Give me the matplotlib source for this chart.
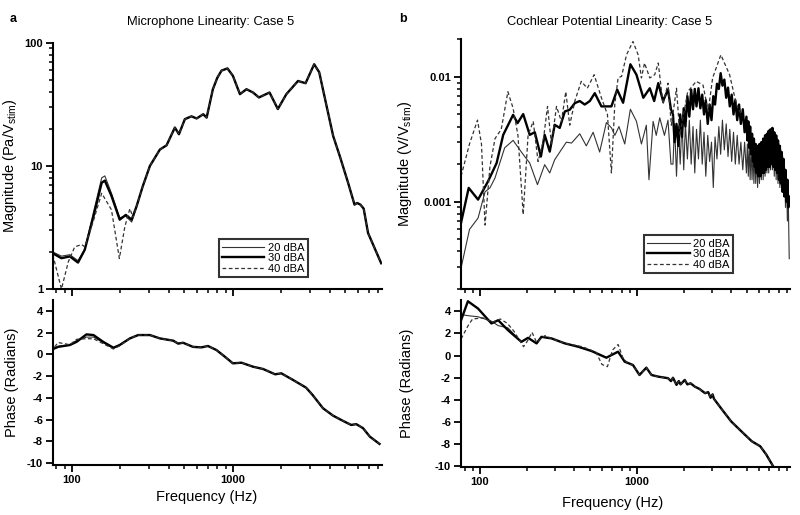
import matplotlib
matplotlib.use("Agg")
import matplotlib.pyplot as plt
from matplotlib.ticker import LogLocator, NullFormatter, FixedLocator, FixedFormatter

plt.rcParams["font.family"] = ["Liberation Sans", "DejaVu Sans"]
plt.rcParams["mathtext.fontset"] = "custom"
plt.rcParams["mathtext.rm"] = "Liberation Sans"
plt.rcParams["axes.unicode_minus"] = False

# ---- panel a: microphone ----
mic_freq = [76, 86, 97, 109, 120, 136, 153, 160, 176, 198, 216, 235, 252, 275, 305, 352, 387,
            436, 462, 503, 553, 595, 654, 687, 751, 800, 850, 925, 1000, 1106, 1215, 1334,
            1452, 1690, 1903, 2150, 2540, 2830, 3200, 3440, 3820, 4200, 4620, 5200, 5700,
            5920, 6200, 6500, 6920, 8350]
mic_mag_30 = [1.95, 1.78, 1.84, 1.64, 2.08, 3.89, 7.3, 7.6, 5.7, 3.66, 4.0, 3.66, 4.7, 6.8, 10,
              13.6, 14.7, 20.5, 18.1, 24, 25.3, 24.3, 26.3, 24.7, 42, 52, 59.5, 62, 54, 38.3,
              42, 39.5, 36, 39.5, 29, 38.3, 49, 47, 67, 57.7, 30.8, 17.5, 12, 7.3, 4.85, 5.0,
              4.85, 4.5, 2.85, 1.62]
mic_mag_20 = [2.0, 1.85, 1.9, 1.7, 2.1, 4.2, 8.0, 8.3, 6.0, 3.8, 3.9, 3.5] + mic_mag_30[12:]
mic_freq_40 = [76, 86, 95, 104, 115, 120, 136, 153, 176, 197, 213, 229, 240] + mic_freq[12:]
mic_mag_40 = [1.9, 1.0, 1.67, 2.2, 2.3, 2.2, 3.6, 6.0, 4.4, 1.77, 3.2, 4.5, 3.8] + mic_mag_30[12:]

mic_pfreq = [78, 82, 97, 107, 123, 136, 156, 181, 198, 229, 258, 305, 352, 426, 457, 490, 565,
             636, 700, 790, 892, 1000, 1130, 1334, 1540, 1830, 2000, 2370, 2850, 3130, 3630,
             4190, 4840, 5430, 5850, 6440, 7100, 8150]
mic_phase_30 = [0.56, 0.7, 0.87, 1.17, 1.85, 1.79, 1.17, 0.62, 0.87, 1.48, 1.79, 1.79, 1.48,
                1.27, 1.0, 1.08, 0.7, 0.65, 0.78, 0.41, -0.21, -0.82, -0.76, -1.13, -1.34,
                -1.83, -1.74, -2.36, -3.06, -3.74, -4.96, -5.64, -6.13, -6.5, -6.43, -6.8,
                -7.58, -8.25]
mic_phase_20 = [0.6, 0.75, 0.9, 1.3, 1.6, 1.6, 1.1, 0.55, 0.9] + mic_phase_30[9:]
mic_phase_40 = [0.7, 1.1, 0.9, 1.4, 1.45, 1.45, 1.0, 0.5, 0.8] + mic_phase_30[9:]

# ---- panel b: cochlear potential ----
cp_freq_hi = [1700, 1740, 1790, 1840, 1890, 1940, 1990, 2040, 2100, 2160, 2220, 2280, 2340,
              2400, 2470, 2540, 2610, 2680, 2750, 2830, 2910, 2990, 3070, 3150, 3240, 3330,
              3420, 3510, 3610, 3710, 3810, 3910, 4020, 4130, 4240, 4360, 4480, 4600, 4730,
              4860, 4990, 5060, 5130, 5200, 5270, 5345, 5420, 5495, 5570, 5645, 5720, 5800,
              5880, 5960, 6040, 6125, 6210, 6295, 6380, 6470, 6560, 6650, 6740, 6830, 6920,
              7015, 7110, 7210, 7310, 7410, 7510, 7615, 7720, 7825, 7930, 8040, 8150, 8265,
              8380, 8495, 8610, 8730, 8850, 8975, 9100, 9225, 9350]

cp_freq_30 = [76, 85, 97.5, 113, 128, 141, 163, 174, 189, 208, 224, 245, 259, 279, 300, 323,
              348, 374, 403, 433, 466, 502, 540, 595, 689, 750, 818, 910, 995, 1100, 1210,
              1290, 1370, 1470, 1580, 1650] + cp_freq_hi
cp_mag_30 = [0.00068, 0.00129, 0.00104, 0.00146, 0.00204, 0.00343, 0.00496, 0.00426, 0.00503,
             0.00343, 0.0036, 0.0023, 0.00343, 0.00252, 0.00413, 0.0039, 0.00528, 0.00545,
             0.00616, 0.0064, 0.0060, 0.0064, 0.0074, 0.0058, 0.0058, 0.0079, 0.0062, 0.0126,
             0.0104, 0.0068, 0.0081, 0.0064, 0.0089, 0.0064, 0.0079, 0.0055,
             0.0050, 0.0030, 0.0042, 0.0028, 0.0050, 0.0033, 0.0056, 0.0040, 0.0070, 0.0048,
             0.0079, 0.0055, 0.0080, 0.0058, 0.0081, 0.0056, 0.0072, 0.0050, 0.0065, 0.0042,
             0.0060, 0.0045, 0.0070, 0.0060, 0.0088, 0.0080, 0.0107, 0.0085, 0.0095, 0.0068,
             0.0082, 0.0058, 0.0072, 0.0050, 0.0065, 0.0045, 0.0060, 0.0042, 0.0055, 0.0036,
             0.0048, 0.0031, 0.0044, 0.0027, 0.0040, 0.0024, 0.0035, 0.0021, 0.0032, 0.0019,
             0.0029, 0.0017, 0.0028, 0.0016, 0.0029, 0.0016, 0.0030, 0.0017, 0.0032, 0.0017,
             0.0034, 0.0018, 0.0035, 0.0019, 0.0037, 0.0019, 0.0038, 0.0020, 0.0039, 0.0019,
             0.0036, 0.0018, 0.0034, 0.0017, 0.0031, 0.0015, 0.0028, 0.0014, 0.0025, 0.0012,
             0.0022, 0.0011, 0.0018, 0.0010, 0.0015, 0.0009, 0.0011]

cp_freq_20 = [76, 86, 97.5, 108, 116, 125, 144, 163, 184, 208, 233, 259, 279, 300, 356, 384,
              433, 477, 527, 580, 640, 690, 725, 770, 838, 910, 995, 1070, 1150, 1195, 1270,
              1330, 1400, 1500, 1580, 1650] + cp_freq_hi
cp_mag_20 = [0.000295, 0.0006, 0.00074, 0.0012, 0.00129, 0.00155, 0.0027, 0.0031, 0.0025,
             0.00204, 0.00137, 0.00198, 0.0017, 0.00217, 0.003, 0.00295, 0.0035, 0.0028,
             0.0036, 0.0025, 0.0043, 0.0039, 0.0034, 0.0040, 0.0029, 0.0055, 0.0044, 0.0029,
             0.0041, 0.0015, 0.0044, 0.0034, 0.0047, 0.0034, 0.0045, 0.0020,
             0.0020, 0.0042, 0.0016, 0.0040, 0.0020, 0.0045, 0.0018, 0.0042, 0.0022, 0.0045,
             0.0020, 0.0040, 0.0017, 0.0038, 0.0022, 0.0045, 0.0020, 0.0036, 0.0016, 0.0034,
             0.0021, 0.0030, 0.0013, 0.0033, 0.0022, 0.0040, 0.0024, 0.0045, 0.0026, 0.0042,
             0.0023, 0.0038, 0.0021, 0.0036, 0.0020, 0.0034, 0.0020, 0.0030, 0.0018, 0.0030,
             0.0017, 0.0029, 0.0016, 0.0028, 0.0015, 0.0027, 0.0015, 0.0026, 0.0014, 0.0026,
             0.0014, 0.0025, 0.0013, 0.0026, 0.0014, 0.0028, 0.0015, 0.0030, 0.0015, 0.0032,
             0.0016, 0.0034, 0.0017, 0.0036, 0.0017, 0.0038, 0.0018, 0.0039, 0.0018, 0.0037,
             0.0016, 0.0034, 0.0015, 0.0032, 0.0014, 0.0029, 0.0013, 0.0026, 0.0012, 0.0023,
             0.0011, 0.0019, 0.0009, 0.0016, 0.0007, 0.0010, 0.00035]

cp_freq_40 = [76, 86, 96.7, 102.5, 108, 116, 125, 137, 151, 163, 175, 189, 203, 219, 235, 253,
              270, 286, 308, 331, 353, 374, 403, 443, 484, 535, 595, 650, 689, 724, 760, 800,
              860, 945, 1020, 1070, 1120, 1210, 1300, 1370, 1470, 1580, 1660, 1790, 1880,
              2110, 2390, 2640, 2850, 3040, 3430, 3900, 4310, 4640]
cp_mag_40 = [0.0016, 0.0029, 0.0045, 0.0029, 0.00065, 0.0019, 0.0032, 0.0038, 0.0076, 0.0056,
             0.0034, 0.00079, 0.0034, 0.0044, 0.0021, 0.003, 0.0058, 0.0029, 0.0058, 0.0044,
             0.0076, 0.0041, 0.0064, 0.0092, 0.0081, 0.0104, 0.0068, 0.005, 0.0017, 0.006,
             0.0098, 0.0101, 0.015, 0.0192, 0.015, 0.0098, 0.0129, 0.0098, 0.0104, 0.0129,
             0.006, 0.0089, 0.0041, 0.0081, 0.0034, 0.0076, 0.0092, 0.0086, 0.0053, 0.0098,
             0.015, 0.0104, 0.006, 0.005]

cp_pfreq = [76, 84, 97.5, 118.6, 131, 151, 184, 203, 230, 247, 286, 348, 423, 515, 640, 760,
            837, 945, 1040, 1150, 1240, 1370, 1580, 1650, 1700, 1790, 1850, 1900, 2020, 2100,
            2200, 2340, 2500, 2720, 2850, 2950, 3040, 3100, 3430, 3990, 4640, 5400, 6110,
            6680, 7380]
cp_phase_30 = [3.19, 4.9, 4.24, 2.9, 3.19, 2.3, 1.24, 1.6, 1.1, 1.69, 1.55, 1.1, 0.8, 0.41,
               -0.19, 0.35, -0.55, -0.85, -1.75, -1.09, -1.75, -1.9, -2.04, -2.3, -2.0, -2.64,
               -2.3, -2.6, -2.2, -2.6, -2.5, -2.8, -3.0, -3.39, -3.3, -3.8, -3.5, -3.9, -4.73,
               -5.94, -6.84, -7.73, -8.18, -8.93, -9.98]
cp_phase_20 = [3.7, 3.6, 3.5, 3.1, 2.7, 2.5] + cp_phase_30[6:]
cp_pfreq_40 = [76, 85, 90, 105, 120, 135, 150, 165, 190, 203, 215, 230, 260, 290, 350, 450,
               550, 600, 650, 700, 760, 820, 900] + cp_pfreq[17:]
cp_phase_40 = [1.5, 2.8, 3.3, 3.4, 3.0, 3.3, 2.9, 2.2, 0.8, 1.4, 2.1, 1.2, 1.8, 1.5, 1.1, 0.8,
               0.3, -0.8, -1.0, 0.5, 1.0, -0.3, -0.8] + cp_phase_30[17:]

labels = ["20 dBA", "30 dBA", "40 dBA"]
styles = [dict(color="#333333", lw=0.8, ls="-"),
          dict(color="black", lw=1.7, ls="-"),
          dict(color="#333333", lw=0.9, ls=(0, (3, 2)))]

fig = plt.figure(figsize=(8, 5.15), dpi=100)
ax_ma = fig.add_axes([0.066, 0.4388, 0.411, 0.478])
ax_pa = fig.add_axes([0.066, 0.097, 0.411, 0.320])
ax_mb = fig.add_axes([0.576, 0.4388, 0.411, 0.485])
ax_pb = fig.add_axes([0.576, 0.0932, 0.411, 0.324])

for ax, xs, ys in [
    (ax_ma, [mic_freq, mic_freq, mic_freq_40], [mic_mag_20, mic_mag_30, mic_mag_40]),
    (ax_pa, [mic_pfreq, mic_pfreq, mic_pfreq], [mic_phase_20, mic_phase_30, mic_phase_40]),
    (ax_mb, [cp_freq_20, cp_freq_30, cp_freq_40], [cp_mag_20, cp_mag_30, cp_mag_40]),
    (ax_pb, [cp_pfreq, cp_pfreq, cp_pfreq_40], [cp_phase_20, cp_phase_30, cp_phase_40]),
]:
    for x, y, st, lab in zip(xs, ys, styles, labels):
        ax.plot(x, y, label=lab, **st)

for ax in [ax_ma, ax_pa, ax_mb, ax_pb]:
    ax.set_xscale("log")
    ax.spines["top"].set_visible(False)
    ax.spines["right"].set_visible(False)
    ax.spines["left"].set_linewidth(1.5)
    ax.spines["bottom"].set_linewidth(1.5)
    ax.xaxis.set_major_locator(FixedLocator([100, 1000]))
    ax.xaxis.set_minor_locator(LogLocator(base=10, subs=range(2, 10)))
    ax.xaxis.set_minor_formatter(NullFormatter())
    ax.tick_params(which="major", direction="out", length=5, width=1.3, labelsize=8, pad=2)
    ax.tick_params(which="minor", direction="out", length=3, width=1.1)

ax_ma.set_xlim(76, 8400)
ax_pa.set_xlim(76, 8400)
ax_mb.set_xlim(75.7, 9400)
ax_pb.set_xlim(75.7, 9400)

for ax in [ax_ma, ax_mb]:
    ax.set_yscale("log")
    ax.yaxis.set_minor_locator(LogLocator(base=10, subs=range(2, 10)))
    ax.yaxis.set_minor_formatter(NullFormatter())
    ax.tick_params(axis="x", labelbottom=False)

ax_ma.set_ylim(1, 100)
ax_ma.yaxis.set_major_locator(FixedLocator([1, 10, 100]))
ax_ma.yaxis.set_major_formatter(FixedFormatter(["1", "10", "100"]))
ax_mb.set_ylim(0.0002, 0.02)
ax_mb.yaxis.set_major_locator(FixedLocator([0.001, 0.01]))
ax_mb.yaxis.set_major_formatter(FixedFormatter(["0.001", "0.01"]))

for ax in [ax_pa, ax_pb]:
    ax.set_yticks([4, 2, 0, -2, -4, -6, -8, -10])
    ax.set_xticklabels(["100", "1000"])
ax_pa.set_ylim(-10.2, 5.0)
ax_pb.set_ylim(-10.05, 5.0)

for ax in [ax_ma, ax_pa, ax_mb, ax_pb]:
    for t in ax.get_xticklabels() + ax.get_yticklabels():
        t.set_fontweight("bold")

ax_ma.set_ylabel(r"Magnitude (Pa/V$_{\mathrm{stim}}$)", fontsize=10.5)
ax_mb.set_ylabel(r"Magnitude (V/V$_{\mathrm{stim}}$)", fontsize=10.5)
ax_pa.set_ylabel("Phase (Radians)", fontsize=10.5)
ax_pb.set_ylabel("Phase (Radians)", fontsize=10.5)
ax_ma.yaxis.set_label_coords(-0.103, 0.5)
ax_pa.yaxis.set_label_coords(-0.103, 0.5)
ax_mb.yaxis.set_label_coords(-0.143, 0.5)
ax_pb.yaxis.set_label_coords(-0.143, 0.5)

fig.text(207 / 800, 1 - 497 / 515, "Frequency (Hz)", ha="center", va="center", fontsize=10.5)
fig.text(613 / 800, 1 - 503 / 515, "Frequency (Hz)", ha="center", va="center", fontsize=10.5)
fig.text(211 / 800, 1 - 22 / 515, "Microphone Linearity: Case 5", ha="center", va="center", fontsize=9.3)
fig.text(610 / 800, 1 - 22 / 515, "Cochlear Potential Linearity: Case 5", ha="center", va="center", fontsize=9.3)
fig.text(13 / 800, 1 - 19 / 515, "a", ha="center", va="center", fontsize=9, fontweight="bold")
fig.text(403 / 800, 1 - 19 / 515, "b", ha="center", va="center", fontsize=9, fontweight="bold")

for ax, anchor in [(ax_ma, (0.775, 0.049)), (ax_mb, (0.827, 0.064))]:
    leg = ax.legend(loc="lower right", bbox_to_anchor=anchor, fontsize=8, frameon=True,
                    fancybox=False, handlelength=3.8, handletextpad=0.3, labelspacing=0.05,
                    borderpad=0.3, borderaxespad=0)
    leg.get_frame().set_edgecolor("black")
    leg.get_frame().set_linewidth(1.5)

fig.savefig("out.png", dpi=100)
